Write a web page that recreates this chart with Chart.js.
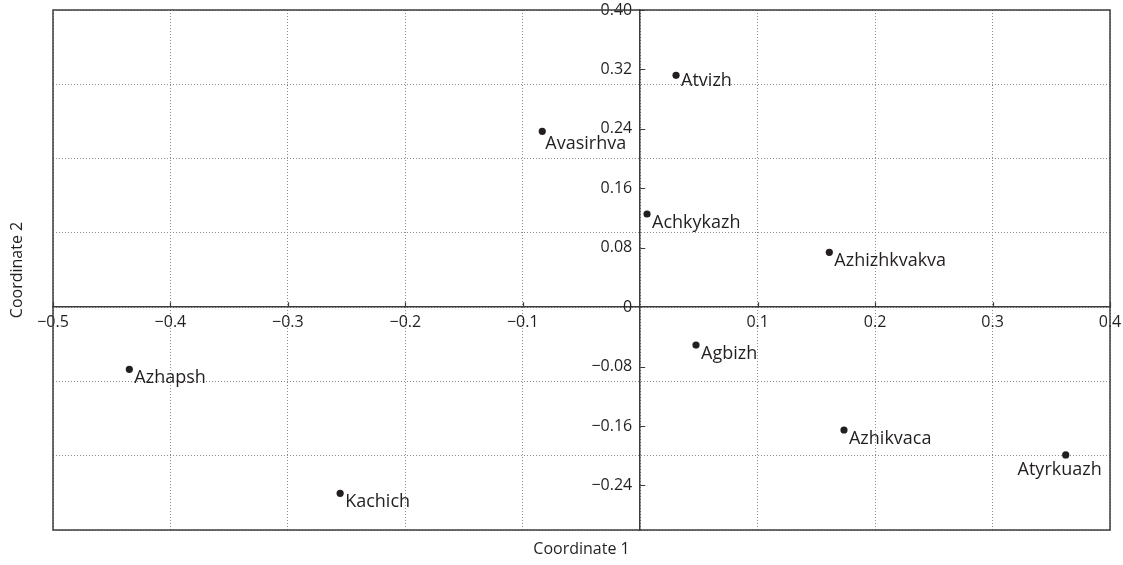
<!DOCTYPE html>
<html>
<head>
<meta charset="utf-8">
<script src="https://cdn.jsdelivr.net/npm/chart.js@4.4.1/dist/chart.umd.min.js"></script>
<style>
  html, body { margin: 0; padding: 0; background: #ffffff; }
  #wrap { width: 1123px; height: 565px; position: relative; }
</style>
</head>
<body>
<div id="wrap"><canvas id="c" width="1123" height="565"></canvas></div>
<script>
// ---- data ----
const names = ["Atvizh", "Avasirhva", "Achkykazh", "Azhizhkvakva", "Agbizh", "Azhapsh", "Azhikvaca", "Atyrkuazh", "Kachich"];
const coord1 = [0.0305, -0.0834, 0.0058, 0.161, 0.0475, -0.435, 0.1735, 0.3623, -0.2555];
const coord2 = [0.312, 0.2367, 0.1254, 0.0738, -0.051, -0.0837, -0.1654, -0.199, -0.2506];
const xTicks = [-0.5, -0.4, -0.3, -0.2, -0.1, 0, 0.1, 0.2, 0.3, 0.4];
const yTicks = [-0.24, -0.16, -0.08, 0, 0.08, 0.16, 0.24, 0.32, 0.40];
const yGridLines = [-0.3, -0.2, -0.1, 0, 0.1, 0.2, 0.3, 0.4];
const xTitle = "Coordinate 1";
const yTitle = "Coordinate 2";

// ---- styling ----
const INK = '#231f20';
const AXIS = '#3c3c3c';
const GRID = '#8a8a8a';
const FONT = "'Open Sans', 'DejaVu Sans', sans-serif";
// label placement relative to the point (pixels), styling only
const labelOffset = {
  default: { dx: 5, dy: 14, align: 'left' },
  "Atvizh": { dx: 5, dy: 11, align: 'left' },
  "Avasirhva": { dx: 3, dy: 18, align: 'left' },
  "Atyrkuazh": { dx: 36, dy: 20, align: 'right' }
};

const fmtX = (v) => {
  const r = Math.round(v * 1000) / 1000;
  if (r === 0) return '';
  return (r < 0 ? '\u2212' : '') + Math.abs(r).toFixed(1);
};
// y labels sit left of the centre axis; the trailing en space provides the gap to the axis line
const fmtY = (v) => {
  const r = Math.round(v * 1000) / 1000;
  const s = r === 0 ? '0' : (r < 0 ? '\u2212' : '') + Math.abs(r).toFixed(2);
  return s + '\u2002';
};
const noPad = (s) => { s.paddingTop = 0; s.paddingBottom = 0; s.paddingLeft = 0; s.paddingRight = 0; };

const points = names.map((n, i) => ({ x: coord1[i], y: coord2[i], label: n }));

const frame = {
  id: 'frame',
  beforeDatasetsDraw(chart) {
    const { ctx, chartArea: a, scales } = chart;
    ctx.save();
    ctx.strokeStyle = AXIS;
    ctx.lineWidth = 1.2;
    const x0 = scales.x.getPixelForValue(0);
    const y0 = scales.y.getPixelForValue(0);
    ctx.beginPath();
    yTicks.forEach(v => {
      if (v === 0) return;
      const py = Math.round(scales.y.getPixelForValue(v)) + 0.5;
      ctx.moveTo(x0, py); ctx.lineTo(x0 + 5, py);
    });
    xTicks.forEach(v => {
      if (v === 0) return;
      const px = Math.round(scales.x.getPixelForValue(v)) + 0.5;
      ctx.moveTo(px, y0); ctx.lineTo(px, y0 - 5);
    });
    ctx.stroke();
    ctx.lineWidth = 1.5;
    ctx.strokeRect(a.left, a.top, a.right - a.left, a.bottom - a.top);
    ctx.restore();
  },
  afterDatasetsDraw(chart) {
    const { ctx } = chart;
    const meta = chart.getDatasetMeta(0);
    ctx.save();
    ctx.font = "18px " + FONT;
    ctx.fillStyle = INK;
    ctx.textBaseline = 'alphabetic';
    meta.data.forEach((el, i) => {
      const n = names[i];
      const o = labelOffset[n] || labelOffset.default;
      ctx.textAlign = o.align;
      ctx.fillText(n, el.x + o.dx, el.y + o.dy);
    });
    ctx.restore();
  }
};

const hiddenTicks = { display: false };

new Chart(document.getElementById('c'), {
  type: 'scatter',
  data: {
    datasets: [{
      data: points,
      backgroundColor: INK,
      borderColor: INK,
      pointRadius: 3.6,
      pointHoverRadius: 3.6,
      borderWidth: 0
    }]
  },
  options: {
    responsive: false,
    animation: false,
    events: [],
    layout: { padding: { top: 10, right: 13, left: 0, bottom: 0 } },
    plugins: { legend: { display: false }, tooltip: { enabled: false } },
    scales: {
      xg: {
        type: 'linear', axis: 'x', min: -0.5, max: 0.4,
        position: { y: 0 },
        afterBuildTicks: (s) => { s.ticks = xTicks.map(v => ({ value: v })); },
        afterFit: noPad,
        ticks: hiddenTicks,
        grid: { display: true, drawTicks: false, color: GRID, lineWidth: 1 },
        border: { display: false, dash: [1, 2] }
      },
      yg: {
        type: 'linear', axis: 'y', min: -0.3, max: 0.4,
        position: { x: 0 },
        afterBuildTicks: (s) => { s.ticks = yGridLines.map(v => ({ value: v })); },
        afterFit: noPad,
        ticks: hiddenTicks,
        grid: { display: true, drawTicks: false, color: GRID, lineWidth: 1 },
        border: { display: false, dash: [1, 2] }
      },
      x: {
        type: 'linear', min: -0.5, max: 0.4,
        position: { y: 0 },
        afterBuildTicks: (s) => { s.ticks = xTicks.map(v => ({ value: v })); },
        afterFit: noPad,
        ticks: {
          color: INK, font: { family: FONT, size: 16 }, padding: 6, maxRotation: 0, autoSkip: false,
          callback: (v) => fmtX(v)
        },
        grid: { display: false, drawTicks: false },
        border: { display: true, color: AXIS, width: 1.5 }
      },
      y: {
        type: 'linear', min: -0.3, max: 0.4,
        position: { x: 0 },
        afterBuildTicks: (s) => { s.ticks = yTicks.map(v => ({ value: v })); },
        afterFit: noPad,
        ticks: {
          color: INK, font: { family: FONT, size: 16 }, padding: 0, autoSkip: false,
          callback: (v) => fmtY(v)
        },
        grid: { display: false, drawTicks: false },
        border: { display: true, color: AXIS, width: 1.5 }
      },
      yl: {
        type: 'linear', axis: 'y', position: 'left', min: 0, max: 1,
        ticks: hiddenTicks,
        grid: { display: false, drawTicks: false },
        border: { display: false },
        title: { display: true, text: yTitle, color: INK, font: { family: FONT, size: 16 }, padding: { top: 8, bottom: 0 } },
        afterFit: (s) => { s.width = 53; noPad(s); }
      },
      xb: {
        type: 'linear', axis: 'x', position: 'bottom', min: 0, max: 1,
        ticks: hiddenTicks,
        grid: { display: false, drawTicks: false },
        border: { display: false },
        title: { display: true, text: xTitle, color: INK, font: { family: FONT, size: 16 }, padding: { top: 0, bottom: 6 } },
        afterFit: (s) => { s.height = 35; noPad(s); }
      }
    }
  },
  plugins: [frame]
});
</script>
</body>
</html>
